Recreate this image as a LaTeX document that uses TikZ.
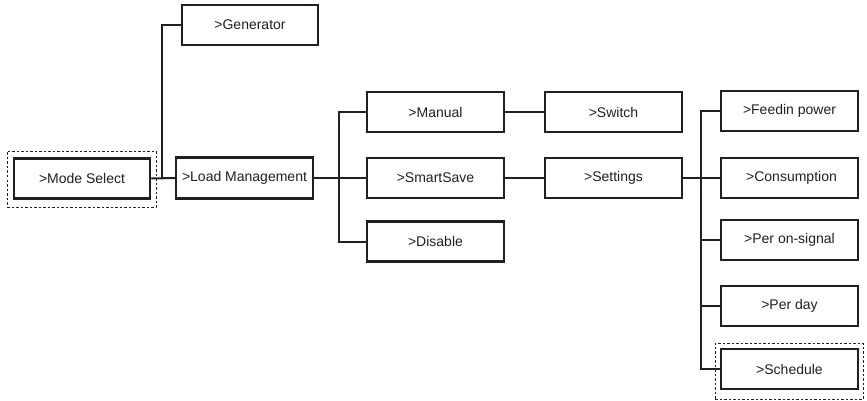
\documentclass[tikz,border=0pt]{standalone}
\usepackage{fontspec}
\setmainfont{Liberation Sans}
\usetikzlibrary{fit}
\definecolor{ink}{HTML}{231F20}
\tikzset{
  box/.style={draw=ink, line width=2.5pt, minimum width=137pt, minimum height=40pt,
    inner sep=0pt, font=\fontsize{14}{16}\selectfont, text=ink},
  wire/.style={draw=ink, line width=2pt},
  dashbox/.style={draw=ink, line width=1pt, dash pattern=on 2.5pt off 2pt, inner sep=0pt}
}
\begin{document}
\begin{tikzpicture}[x=1pt,y=-1pt]
\useasboundingbox (0,0) rectangle (867,401);
\node[box, minimum width=136pt] (ms) at (82,178.5) {>Mode Select};
\node[box, minimum width=136pt] (gen) at (250,25) {>Generator};
\node[box, minimum height=41pt] (lm) at (244.5,178) {>Load Management};
\node[box] (man) at (435.5,112) {>Manual};
\node[box] (ss) at (435.5,178) {>SmartSave};
\node[box] (dis) at (435.5,241.5) {>Disable};
\node[box] (sw) at (613.5,112) {>Switch};
\node[box] (set) at (613.5,178) {>Settings};
\node[box] (feed) at (789.5,111) {>Feedin power};
\node[box] (cons) at (789.5,178) {\hspace{4pt}>Consumption};
\node[box] (pon) at (789.5,240) {>Per on-signal};
\node[box] (pd) at (789.5,306) {>Per day};
\node[box] (sch) at (789.5,369) {>Schedule};
\node[dashbox, fit={(7,151) (156,207)}] (msd) {};
\node[dashbox, fit={(715,343) (863,399)}] (schd) {};
% connectors
\draw[wire] (ms.east) -- (lm.west);
\draw[wire] (gen.west) -- ++(-19,0) |- (lm.west);
\draw[wire] (lm.east) -- (ss.west);
\draw[wire] (man.west) -- ++(-27,0) |- (dis.west);
\draw[wire] (man.east) -- (sw.west);
\draw[wire] (ss.east) -- (set.west);
\draw[wire] (set.east) -- (cons.west);
\draw[wire] (feed.west) -- ++(-19,0) |- (sch.west);
\draw[wire] (pon.west) -- ++(-19,0);
\draw[wire] (pd.west) -- ++(-19,0);
\end{tikzpicture}
\end{document}
